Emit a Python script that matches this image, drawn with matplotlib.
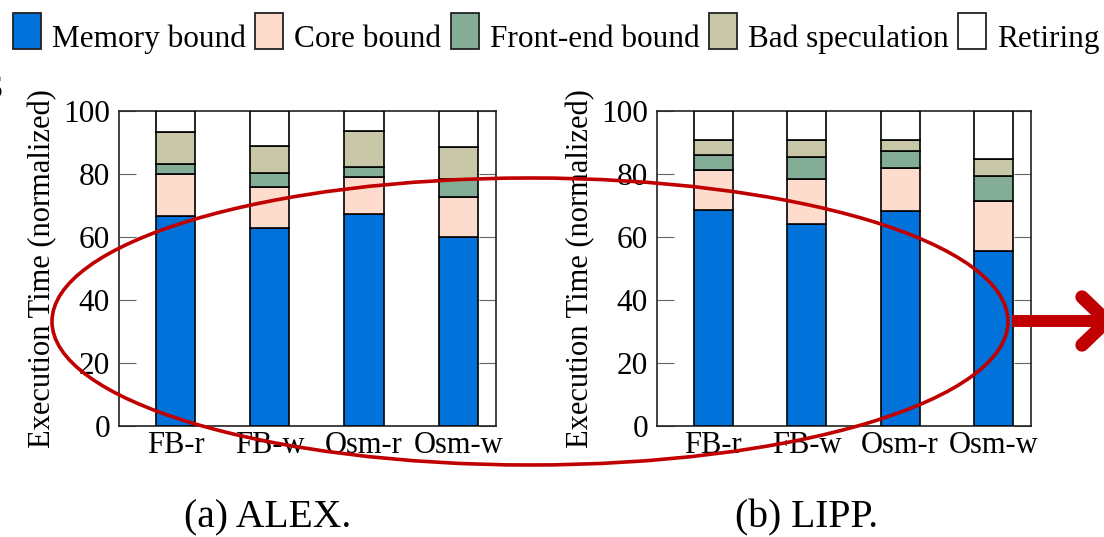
import matplotlib
matplotlib.use('Agg')
import matplotlib.pyplot as plt
from matplotlib.patches import Rectangle, Ellipse
from matplotlib.lines import Line2D
import numpy as np

plt.rcParams['font.family'] = ['Liberation Serif', 'DejaVu Serif']

W, H = 1104, 537

workloads = ['FB-r', 'FB-w', 'Osm-r', 'Osm-w']
categories = ['Memory bound', 'Core bound', 'Front-end bound', 'Bad speculation', 'Retiring']
colors = ['#0072d9', '#fddccd', '#84ad98', '#c8c8a8', '#ffffff']

# ALEX top-down breakdown (normalized execution time, %)
alex_memory = [66.6, 62.8, 67.1, 59.8]
alex_core = [13.2, 13.1, 11.9, 12.9]
alex_frontend = [3.3, 4.2, 3.2, 5.7]
alex_badspec = [10.3, 8.8, 11.4, 10.2]
alex_retiring = [6.6, 11.1, 6.4, 11.4]

# LIPP top-down breakdown
lipp_memory = [68.5, 64.2, 68.2, 55.5]
lipp_core = [12.8, 14.0, 13.5, 16.0]
lipp_frontend = [4.7, 7.2, 5.4, 7.8]
lipp_badspec = [4.7, 5.2, 3.5, 5.4]
lipp_retiring = [9.3, 9.4, 9.4, 15.3]

captions = ['(a) ALEX.', '(b) LIPP.']


def fx(x):
    return x / W


def fy(y):
    return 1 - y / H


def draw(ax, series):
    x = np.arange(len(workloads))
    bottom = np.zeros(len(workloads))
    for vals, c in zip(series, colors):
        ax.bar(x, vals, 0.415, bottom=bottom, color=c, edgecolor='black',
               linewidth=1.2, zorder=3)
        bottom += np.array(vals)
    ax.set_xlim(-0.6, 3.4)
    ax.set_ylim(0, 100)
    ax.set_yticks(range(0, 101, 20))
    ax.set_xticks(x, workloads)
    ax.tick_params(axis='y', direction='in', length=12, width=0.8, color='#666666',
                   left=True, right=True, labelsize=22.5, pad=6.5)
    ax.tick_params(axis='x', length=0, labelsize=22, pad=3.5)
    ax.set_ylabel('Execution Time (normalized)', fontsize=22, labelpad=4)
    for s in ax.spines.values():
        s.set_linewidth(1.2)
        s.set_color('#222222')


fig = plt.figure(figsize=(W / 100, H / 100), dpi=100)
ax1 = fig.add_axes([fx(119), fy(426), 377 / W, 315.3 / H])
ax2 = fig.add_axes([fx(657), fy(426), 374 / W, 315.3 / H])

draw(ax1, [alex_memory, alex_core, alex_frontend, alex_badspec, alex_retiring])
draw(ax2, [lipp_memory, lipp_core, lipp_frontend, lipp_badspec, lipp_retiring])

fig.text(fx(268), fy(527), captions[0], fontsize=28.5, ha='center', va='baseline')
fig.text(fx(807), fy(527), captions[1], fontsize=28.5, ha='center', va='baseline')

# legend row across the top
renderer = fig.canvas.get_renderer()
x = 13
for label, c in zip(categories, colors):
    fig.add_artist(Rectangle((fx(x), fy(49)), 28 / W, 36 / H, transform=fig.transFigure,
                             facecolor=c, edgecolor='#222222', lw=1.3))
    t = fig.text(fx(x + 39), fy(47), label, fontsize=22.5, ha='left', va='baseline')
    x = x + 39 + t.get_window_extent(renderer).width + 9.5

# clipped glyph at the left edge
fig.text(fx(3), fy(98), 'S', fontsize=24, ha='right', va='baseline')

# red highlight ellipse and arrow
fig.add_artist(Ellipse((fx(530), fy(321.5)), 956 / W, 287 / H, transform=fig.transFigure,
                       fill=False, edgecolor='#c00000', lw=2.6, zorder=10))
fig.add_artist(Line2D([fx(1012), fx(1110)], [fy(321), fy(321)], transform=fig.transFigure,
                      lw=8.6, color='#c00000', solid_capstyle='butt', zorder=10))
fig.add_artist(Line2D([fx(1082), fx(1107), fx(1082)], [fy(297), fy(321), fy(345)],
                      transform=fig.transFigure, lw=9.6, color='#c00000',
                      solid_capstyle='round', solid_joinstyle='round', zorder=10))

fig.savefig('out.png', dpi=100)
